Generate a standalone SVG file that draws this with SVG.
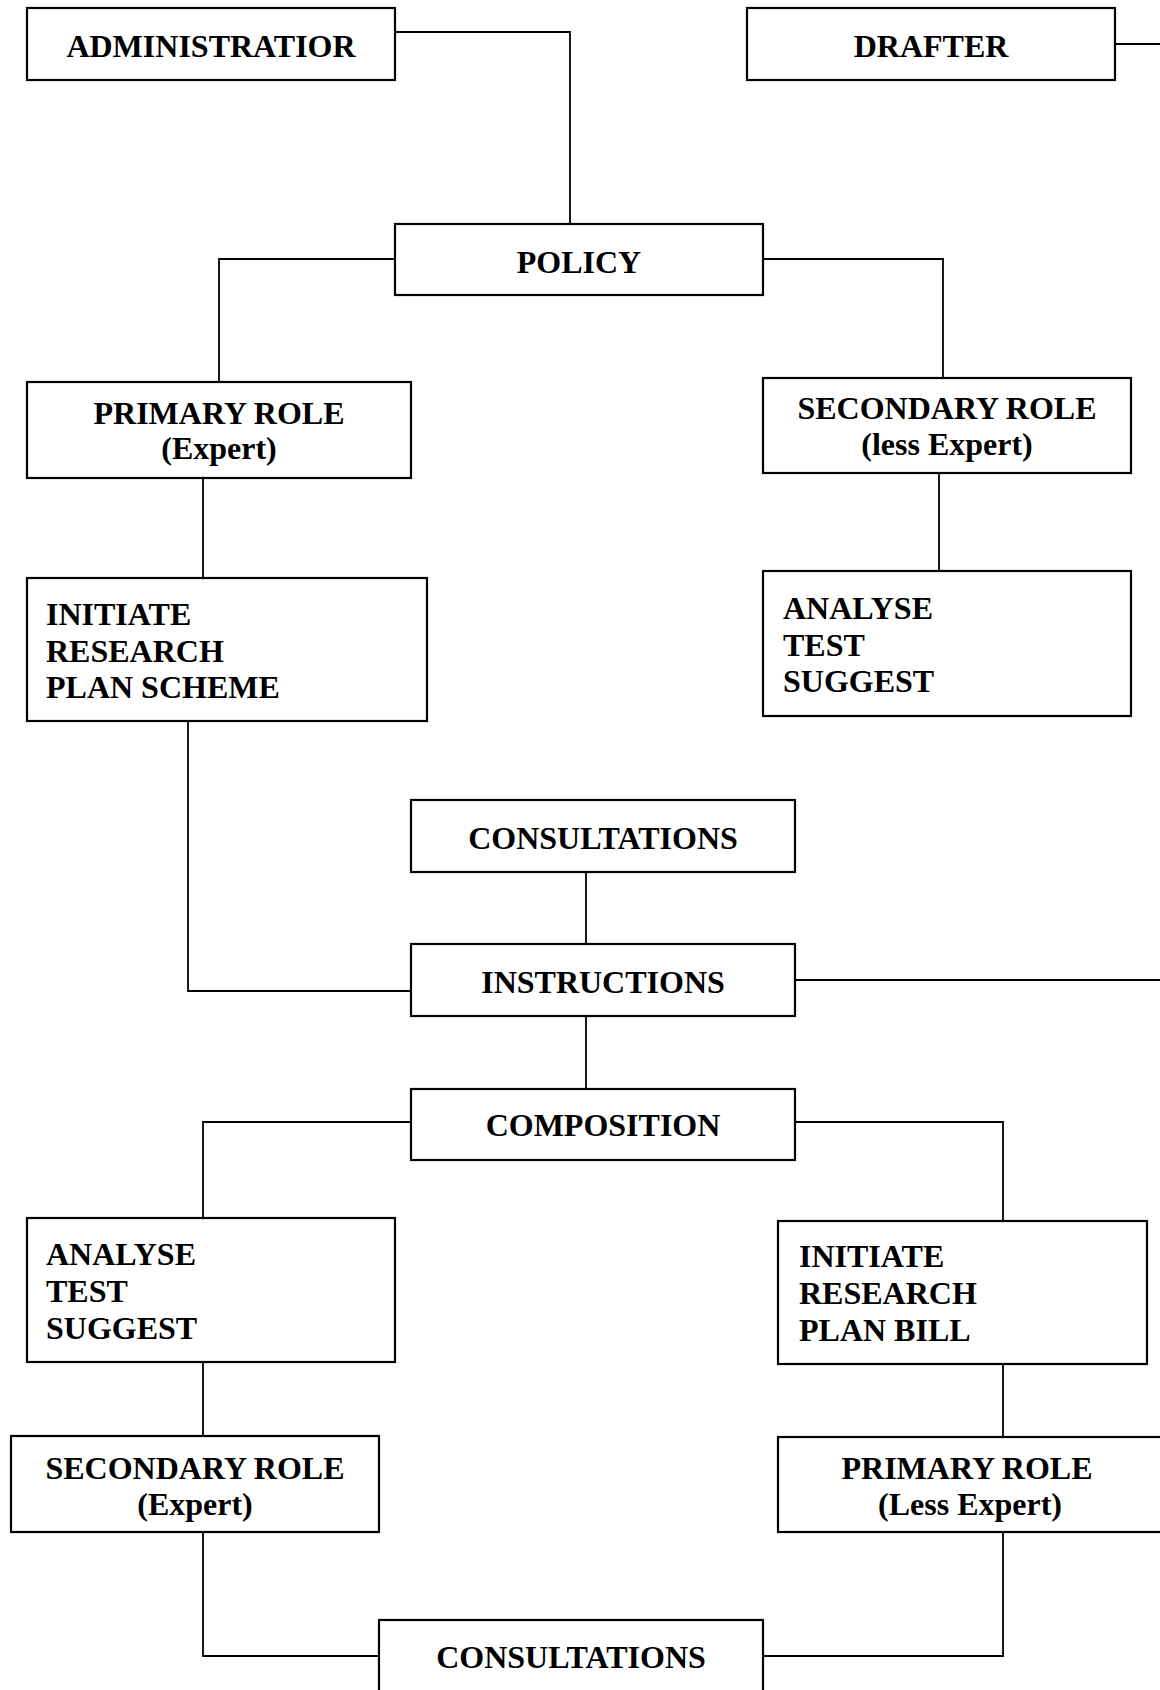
<svg xmlns="http://www.w3.org/2000/svg" width="1160" height="1690" viewBox="0 0 1160 1690">
<style>
.box{fill:#fff;stroke:#000;stroke-width:2.2}
.ln{fill:none;stroke:#000;stroke-width:1.8}
text{font-family:"Liberation Serif","Times New Roman",serif;font-weight:bold;font-size:32px;fill:#000}
.c{text-anchor:middle}
</style>
<rect width="1160" height="1690" fill="#fff"/>
<g id="connectors">
<polyline class="ln" points="395,32 570,32 570,224"/>
<polyline class="ln" points="1115,44 1162,44"/>
<polyline class="ln" points="395,259 219,259 219,382"/>
<polyline class="ln" points="763,259 943,259 943,378"/>
<polyline class="ln" points="203,478 203,578"/>
<polyline class="ln" points="939,473 939,571"/>
<polyline class="ln" points="188,721 188,991 411,991"/>
<polyline class="ln" points="586,872 586,944"/>
<polyline class="ln" points="795,980 1162,980"/>
<polyline class="ln" points="586,1016 586,1089"/>
<polyline class="ln" points="411,1122 203,1122 203,1218"/>
<polyline class="ln" points="795,1122 1003,1122 1003,1220"/>
<polyline class="ln" points="203,1362 203,1436"/>
<polyline class="ln" points="1003,1364 1003,1436"/>
<polyline class="ln" points="203,1532 203,1656 379,1656"/>
<polyline class="ln" points="1003,1532 1003,1656 763,1656"/>
</g>
<g id="administratior"><rect class="box" x="27" y="8" width="368" height="72"/><text class="c" x="211" y="57">ADMINISTRATIOR</text></g>
<g id="drafter"><rect class="box" x="747" y="8" width="368" height="72"/><text class="c" x="931" y="57">DRAFTER</text></g>
<g id="policy"><rect class="box" x="395" y="224" width="368" height="71"/><text class="c" x="579" y="273">POLICY</text></g>
<g id="primary-role-expert"><rect class="box" x="27" y="382" width="384" height="96"/><text class="c" x="219" y="424">PRIMARY ROLE</text><text class="c" x="219" y="459">(Expert)</text></g>
<g id="secondary-role-less-expert"><rect class="box" x="763" y="378" width="368" height="95"/><text class="c" x="947" y="419">SECONDARY ROLE</text><text class="c" x="947" y="455">(less Expert)</text></g>
<g id="initiate-scheme"><rect class="box" x="27" y="578" width="400" height="143"/><text x="46" y="625">INITIATE</text><text x="46" y="662">RESEARCH</text><text x="46" y="698">PLAN SCHEME</text></g>
<g id="analyse-top"><rect class="box" x="763" y="571" width="368" height="145"/><text x="783" y="619">ANALYSE</text><text x="783" y="656">TEST</text><text x="783" y="692">SUGGEST</text></g>
<g id="consultations-top"><rect class="box" x="411" y="800" width="384" height="72"/><text class="c" x="603" y="849">CONSULTATIONS</text></g>
<g id="instructions"><rect class="box" x="411" y="944" width="384" height="72"/><text class="c" x="603" y="993">INSTRUCTIONS</text></g>
<g id="composition"><rect class="box" x="411" y="1089" width="384" height="71"/><text class="c" x="603" y="1136">COMPOSITION</text></g>
<g id="analyse-bottom"><rect class="box" x="27" y="1218" width="368" height="144"/><text x="46" y="1265">ANALYSE</text><text x="46" y="1302">TEST</text><text x="46" y="1339">SUGGEST</text></g>
<g id="initiate-bill"><rect class="box" x="778" y="1221" width="369" height="143"/><text x="799" y="1267">INITIATE</text><text x="799" y="1304">RESEARCH</text><text x="799" y="1341">PLAN BILL</text></g>
<g id="secondary-role-expert"><rect class="box" x="11" y="1436" width="368" height="96"/><text class="c" x="195" y="1479">SECONDARY ROLE</text><text class="c" x="195" y="1515">(Expert)</text></g>
<g id="primary-role-less-expert"><rect class="box" x="778" y="1437" width="390" height="95"/><text class="c" x="967" y="1479">PRIMARY ROLE</text><text class="c" x="970" y="1515">(Less Expert)</text></g>
<g id="consultations-bottom"><rect class="box" x="379" y="1620" width="384" height="80"/><text class="c" x="571" y="1668">CONSULTATIONS</text></g>
</svg>
